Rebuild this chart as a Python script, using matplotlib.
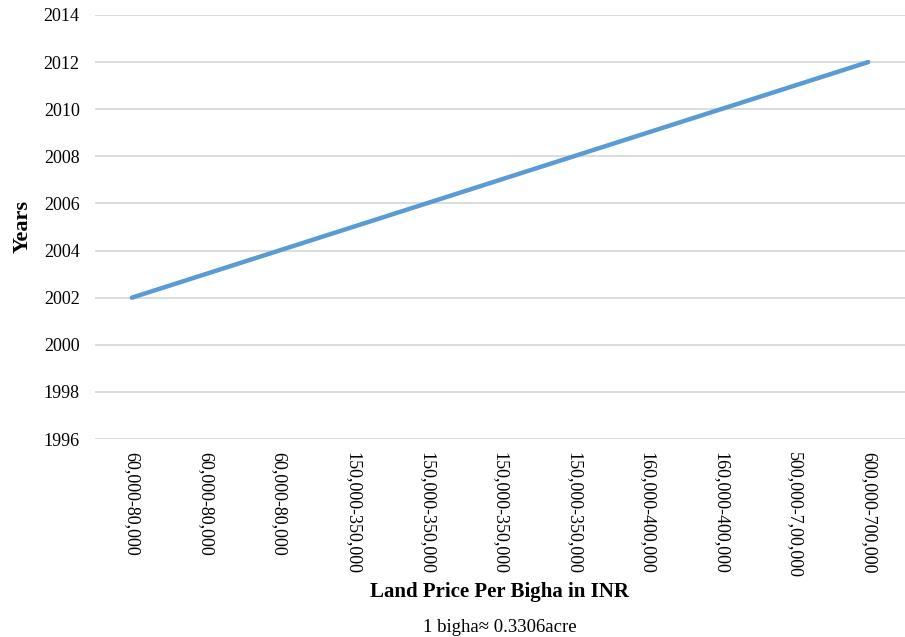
import matplotlib
matplotlib.use("Agg")
from matplotlib import pyplot as plt

# land price bands (INR per bigha) and the year each band was recorded
price_bands = ["60,000-80,000", "60,000-80,000", "60,000-80,000",
               "150,000-350,000", "150,000-350,000", "150,000-350,000",
               "150,000-350,000", "160,000-400,000", "160,000-400,000",
               "500,000-7,00,000", "600,000-700,000"]
years = [2002, 2003, 2004, 2005, 2006, 2007, 2008, 2009, 2010, 2011, 2012]
year_ticks = [1996, 1998, 2000, 2002, 2004, 2006, 2008, 2010, 2012, 2014]

plt.rcParams['font.family'] = ['Liberation Serif', 'DejaVu Serif']

fig = plt.figure(figsize=(9.05, 6.37), dpi=100)
ax = fig.add_axes([0.105, 0.3108, 0.895, 0.6657])

x = list(range(len(price_bands)))
ax.plot(x, years, color='#5B9BD5', linewidth=3.2, solid_capstyle='round', zorder=3)

ax.set_xlim(-0.5, len(price_bands) - 0.5)
ax.set_ylim(1996, 2014)
ax.set_yticks(year_ticks)
ax.set_xticks(x)
ax.set_xticklabels(price_bands, rotation=270, va='top', ha='center')
ax.tick_params(axis='both', length=0, labelsize=13)
ax.tick_params(axis='y', pad=11)
ax.tick_params(axis='x', pad=9)

ax.grid(axis='y', color='#D9D9D9', linewidth=1.3)
ax.set_axisbelow(True)
for s in ax.spines.values():
    s.set_visible(False)

ax.set_ylabel('Years', fontsize=16, fontweight='bold', labelpad=8)
fig.text(0.552, 0.071, 'Land Price Per Bigha in INR', fontsize=15,
         fontweight='bold', ha='center', va='center')
fig.text(0.552, 0.015, '1 bigha\u2248 0.3306acre', fontsize=13.5,
         ha='center', va='center')

plt.savefig('out.png', dpi=100)
